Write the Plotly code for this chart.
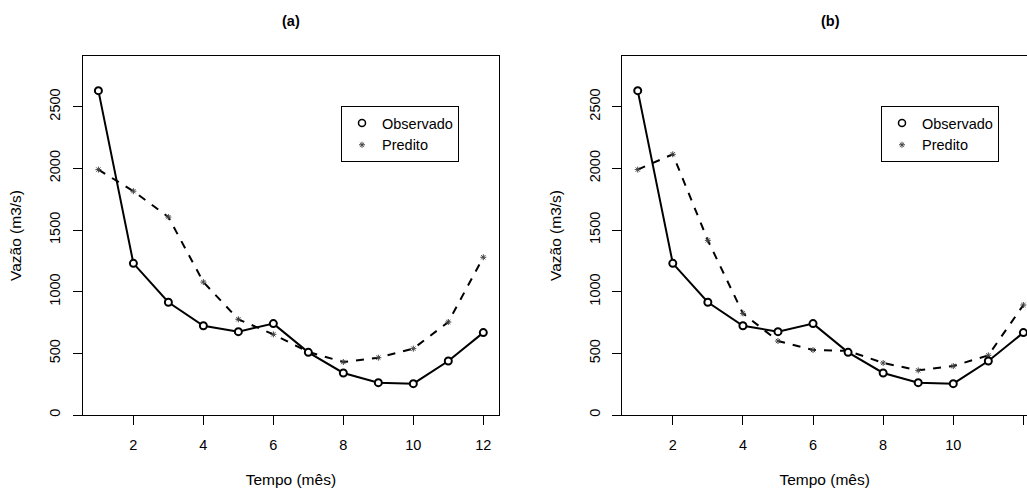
import plotly.graph_objects as go

meses = [1, 2, 3, 4, 5, 6, 7, 8, 9, 10, 11, 12]
observado = [2630, 1230, 914, 724, 676, 741, 508, 341, 262, 254, 438, 668]
predito_a = [1990, 1815, 1605, 1078, 776, 654, 511, 430, 465, 538, 754, 1279]
predito_b = [1990, 2114, 1416, 824, 600, 527, 520, 422, 362, 397, 484, 892]
y_ticks = [0, 500, 1000, 1500, 2000, 2500]
x_ticks = [2, 4, 6, 8, 10, 12]

FONT = "Liberation Sans, Arial, Helvetica, sans-serif"
FS = 14.5
FS_T = 15.5
W, H = 1027, 490
ML, MT, MB = 83, 56, 75

fig = go.Figure()

STAR = "#444444"
obs_line = dict(color="black", width=2)
obs_marker = dict(symbol="circle", size=7, color="white", line=dict(color="black", width=2))
pred_line = dict(color="black", width=2, dash="8px,8px")
pred_marker = dict(symbol="asterisk-open", size=5, color=STAR, line=dict(color=STAR, width=1))

for i, (pred, leg) in enumerate([(predito_a, "legend"), (predito_b, "legend2")]):
    xa = "x" if i == 0 else "x2"
    ya = "y" if i == 0 else "y2"
    fig.add_trace(go.Scatter(x=meses, y=pred, mode="lines+markers", line=pred_line,
                             marker=pred_marker, xaxis=xa, yaxis=ya, showlegend=False))
    fig.add_trace(go.Scatter(x=meses, y=observado, mode="lines+markers", line=obs_line,
                             marker=obs_marker, xaxis=xa, yaxis=ya, showlegend=False))
    # legend entries (points only, as in the original)
    fig.add_trace(go.Scatter(x=[None], y=[None], mode="markers", name="Observado",
                             marker=dict(symbol="circle-open", size=7, color="black", line=dict(width=1.5)),
                             xaxis=xa, yaxis=ya, legend=leg))
    fig.add_trace(go.Scatter(x=[None], y=[None], mode="markers", name="Predito",
                             marker=dict(symbol="asterisk-open", size=5, color=STAR, line=dict(width=1)),
                             xaxis=xa, yaxis=ya, legend=leg))

plot_w = W - ML
plot_h = H - MT - MB
dom_a = [0, (498.7 - ML) / plot_w]
dom_b = [(622.3 - ML) / plot_w, 1]
px_per_unit = 35.06
xr_b_end = 0.56 + (W - 622.3) / px_per_unit

axis_common = dict(showgrid=False, zeroline=False, linecolor="black", linewidth=1, automargin=False,
                   ticks="outside", ticklen=9, tickwidth=1, tickcolor="black",
                   tickfont=dict(family=FONT, size=FS, color="black"),
                   title_font=dict(family=FONT, size=FS_T, color="black"))
x_common = dict(ticklabelstandoff=8, title=dict(text="Tempo (mês)", standoff=21), **axis_common)
y_common = dict(ticklabelstandoff=7, tickangle=-90, title=dict(text="Vazão (m3/s)", standoff=21), **axis_common)

fig.update_layout(
    template="none",
    width=W, height=H,
    margin=dict(l=ML, r=0, t=MT, b=MB, autoexpand=False),
    paper_bgcolor="white", plot_bgcolor="white",
    font=dict(family=FONT, size=FS, color="black"),
    xaxis=dict(domain=dom_a, range=[0.56, 12.44], tickvals=x_ticks, showline=True, mirror=True,
               anchor="y", **x_common),
    yaxis=dict(domain=[0, 1], range=[0, 2911], tickvals=y_ticks, showline=True, mirror=True,
               anchor="x", **y_common),
    xaxis2=dict(domain=dom_b, range=[0.56, xr_b_end], tickvals=x_ticks, showline=True, mirror=True,
                anchor="y2", **x_common),
    yaxis2=dict(domain=[0, 1], range=[0, 2911], tickvals=y_ticks, showline=True, mirror=False,
                anchor="x2", **y_common),
    legend=dict(x=(341 - ML) / plot_w, y=(415 - 106) / plot_h, xanchor="left", yanchor="top",
                bgcolor="white", bordercolor="black", borderwidth=1, itemwidth=30,
                font=dict(family=FONT, size=FS, color="black")),
    legend2=dict(x=(881 - ML) / plot_w, y=(415 - 106) / plot_h, xanchor="left", yanchor="top",
                 bgcolor="white", bordercolor="black", borderwidth=1, itemwidth=30,
                 font=dict(family=FONT, size=FS, color="black")),
    annotations=[
        dict(text="<b>(a)</b>", x=(dom_a[0] + dom_a[1]) / 2, y=(415 - 21) / plot_h, xref="paper", yref="paper",
             xanchor="center", yanchor="middle", showarrow=False,
             font=dict(family=FONT, size=FS, color="black")),
        dict(text="<b>(b)</b>", x=((830 - ML) / plot_w), y=(415 - 21) / plot_h, xref="paper", yref="paper",
             xanchor="center", yanchor="middle", showarrow=False,
             font=dict(family=FONT, size=FS, color="black")),
    ],
)

fig.write_html("out.html", config={"displayModeBar": False},
               post_script="document.body.style.margin='0';document.body.style.overflow='hidden';")
